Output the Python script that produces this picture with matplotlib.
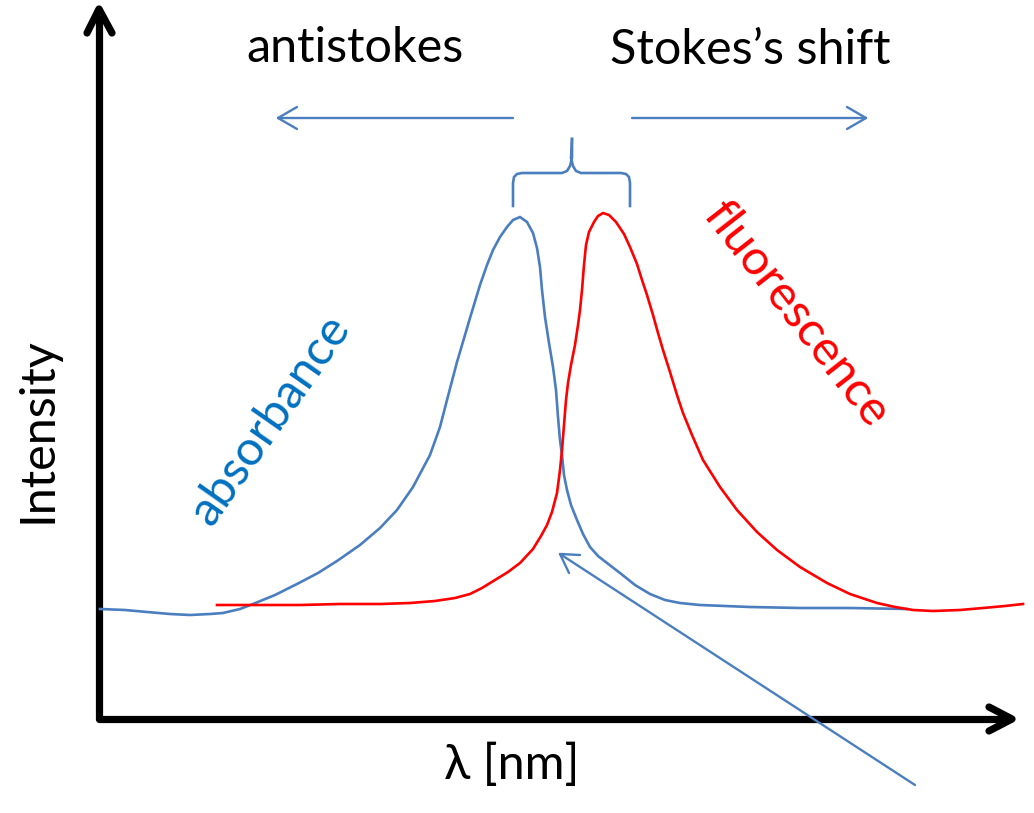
import matplotlib
matplotlib.use("Agg")
import matplotlib.pyplot as plt
import numpy as np

# Canvas in pixel units (y grows downward)
W, H = 1034, 813

absorbance_x = [100, 125, 147, 170, 190, 210, 223, 240, 253, 275, 297, 318, 337, 360, 380, 397,
                413, 430, 440, 447, 457, 465, 470, 480, 487, 493, 500, 507, 513, 520, 527, 533,
                537, 540, 542, 545, 549, 553, 556, 558, 560, 562, 564, 567, 571, 577, 583, 590,
                598, 607, 620, 635, 650, 665, 680, 700, 750, 800, 850, 907]
absorbance_y = [609, 610, 612, 614, 615, 614, 613, 609, 604, 595, 584, 573, 561, 545, 528, 510,
                487, 455, 427, 400, 362, 335, 318, 285, 265, 250, 237, 227, 220, 217, 222, 233,
                248, 267, 290, 317, 343, 367, 390, 417, 440, 455, 475, 490, 505, 520, 534, 547,
                556, 563, 573, 585, 594, 600, 603, 605, 607, 608, 608, 609]

fluorescence_x = [217, 260, 300, 340, 380, 410, 435, 455, 470, 482, 495, 508, 520, 533, 541, 547,
                  552, 557, 560, 562, 564, 566, 568, 571, 575, 578, 580, 582, 584, 586, 589, 594,
                  598, 603, 609, 616, 624, 630, 637, 642, 647, 653, 658, 663, 670, 677, 683, 692,
                  703, 720, 737, 757, 777, 800, 827, 850, 877, 895, 913, 933, 960, 983, 1005, 1023]
fluorescence_y = [605, 605, 605, 604, 604, 603, 601, 598, 594, 588, 580, 572, 563, 549, 536, 525,
                  512, 493, 470, 450, 425, 400, 383, 365, 345, 325, 310, 290, 265, 245, 232, 222,
                  216, 213, 215, 222, 234, 247, 264, 280, 295, 315, 333, 350, 372, 395, 413, 435,
                  460, 487, 510, 532, 550, 567, 583, 594, 603, 607, 610, 611, 610, 608, 606, 604]

BLUE = "#4A7EBF"
TEXT_BLUE = "#0070C0"
RED = "#FF0000"
FONT = ["Lato", "DejaVu Sans"]
FS = 35

fig = plt.figure(figsize=(W / 100, H / 100), dpi=100)
ax = fig.add_axes([0, 0, 1, 1])
ax.set_xlim(0, W)
ax.set_ylim(H, 0)
ax.axis("off")

# axes drawn as thick arrows with open chevron heads
axis_kw = dict(color="black", lw=5.2, solid_capstyle="round", solid_joinstyle="round")
ax.plot([99, 99, 1010], [10, 719, 719], **axis_kw)
ax.plot([87, 99, 112], [33, 9, 33], **axis_kw)
ax.plot([989, 1012, 989], [707, 719, 731], **axis_kw)

# spectra
ax.plot(absorbance_x, absorbance_y, color=BLUE, lw=1.9, solid_joinstyle="round")
ax.plot(fluorescence_x, fluorescence_y, color=RED, lw=1.9, solid_joinstyle="round")

# direction arrows at the top
thin = dict(color=BLUE, lw=1.7, solid_capstyle="round")
ax.plot([513, 278], [118, 118], **thin)
ax.plot([297, 278, 297], [107, 118, 129], **thin)
ax.plot([632, 866], [118, 118], **thin)
ax.plot([847, 866, 847], [107, 118, 129], **thin)

# brace over the two maxima
bx = [513, 513, 514, 517, 522, 562, 567, 570, 572, 572]
by = [206, 183, 177, 174, 173, 173, 171, 166, 158, 139]
ax.plot(bx, by, color=BLUE, lw=1.9)
ax.plot([2 * 572 - 1 - v for v in bx][:-1] + [572], by, color=BLUE, lw=1.9)

# pointer arrow to the crossing point
ax.plot([915, 560], [785, 554], **thin)
ax.plot([580, 560, 569], [555, 554, 573], **thin)

ax.text(355, 48, "antistokes", fontsize=FS, family=FONT, ha="center", va="center")
ax.text(750, 50, "Stokes\u2019s shift", fontsize=FS, family=FONT, ha="center", va="center")
ax.text(38, 430, "Intensity", fontsize=FS, family=FONT, ha="center", va="center", rotation=90)
ax.text(512, 765, "\u03bb [nm]", fontsize=FS, family=FONT, ha="center", va="center")
ax.text(270, 420, "absorbance", fontsize=FS, family=FONT, ha="center", va="center",
        rotation=55, color=TEXT_BLUE, rotation_mode="anchor")
ax.text(797, 315, "fluorescence", fontsize=FS, family=FONT, ha="center", va="center",
        rotation=-52, color=RED, rotation_mode="anchor")

fig.savefig("out.png", dpi=100)
